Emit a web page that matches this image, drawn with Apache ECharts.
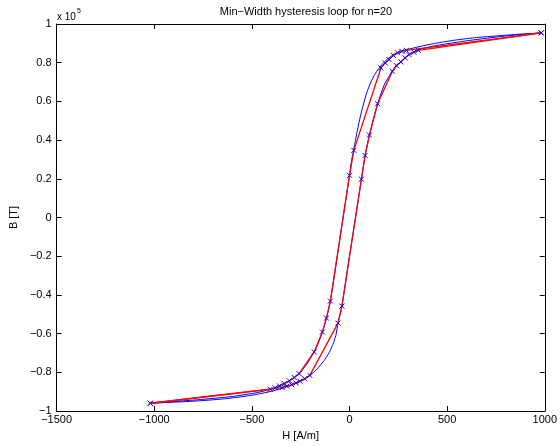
<!DOCTYPE html>
<html>
<head>
<meta charset="utf-8">
<script src="https://cdn.jsdelivr.net/npm/echarts@6/dist/echarts.min.js"></script>
<style>
  html, body { margin: 0; padding: 0; background: #fff; }
  #chart { width: 560px; height: 446px; }
</style>
</head>
<body>
<div id="chart"></div>
<script>
// B values are in units of 1e5 (axis shows "x 10^5")

// discrete loop, descending branch (red line, x markers)
const descH = [982, 291, 268, 246, 225, 203, 183, 161, 22, 0, -98, -118, -139, -181, -258, -283, -308, -334, -359, -381, -406, -1020];
const descB = [0.954, 0.864, 0.859, 0.851, 0.837, 0.816, 0.799, 0.773, 0.347, 0.218, -0.432, -0.520, -0.592, -0.695, -0.807, -0.827, -0.844, -0.858, -0.870, -0.880, -0.888, -0.960];

// discrete loop, ascending branch
const ascH = [-1020, -345, -322, -296, -274, -254, -229, -203, -59, -39, 61, 80, 102, 144, 220, 240, 263, 285, 305, 330, 352, 982];
const ascB = [-0.960, -0.879, -0.872, -0.864, -0.855, -0.846, -0.833, -0.816, -0.546, -0.458, 0.198, 0.321, 0.426, 0.588, 0.756, 0.785, 0.804, 0.825, 0.842, 0.854, 0.864, 0.954];

// continuous model curves (blue)
const contDescH = [982, 850, 762, 650, 550, 450, 380, 320, 280, 246, 215, 190, 170, 150, 130, 110, 90, 70, 55, 40, 25, 10, 0, -33, -98, -118, -139, -160, -181, -220, -258, -308, -359, -406, -474, -600, -779, -1020];
const contDescB = [0.954, 0.946, 0.939, 0.930, 0.918, 0.902, 0.888, 0.874, 0.864, 0.853, 0.835, 0.815, 0.795, 0.770, 0.740, 0.700, 0.650, 0.580, 0.520, 0.450, 0.370, 0.290, 0.218, 0.000, -0.432, -0.520, -0.592, -0.650, -0.695, -0.760, -0.807, -0.844, -0.870, -0.888, -0.905, -0.925, -0.942, -0.960];
const contAscH = [-1020, -850, -779, -650, -550, -474, -400, -345, -296, -254, -220, -190, -165, -140, -120, -100, -85, -70, -59, -39, 0, 40, 61, 80, 102, 120, 144, 180, 220, 263, 305, 352, 420, 500, 600, 762, 850, 982];
const contAscB = [-0.960, -0.952, -0.948, -0.938, -0.926, -0.914, -0.898, -0.882, -0.866, -0.848, -0.828, -0.806, -0.782, -0.752, -0.725, -0.690, -0.655, -0.610, -0.546, -0.458, -0.200, 0.060, 0.198, 0.321, 0.426, 0.500, 0.588, 0.690, 0.756, 0.806, 0.842, 0.866, 0.884, 0.898, 0.913, 0.934, 0.943, 0.954];

const xTicks = [-1500, -1000, -500, 0, 500, 1000];
const yTicks = [-1, -0.8, -0.6, -0.4, -0.2, 0, 0.2, 0.4, 0.6, 0.8, 1];

function pairs(xs, ys) {
    return xs.map(function (x, i) { return [x, ys[i]]; });
}

function fmt(v) {
    // matlab style minus sign
    return String(v).replace('-', '\u2212');
}

const font = 'Liberation Sans, Arial, sans-serif';
const crossPath = 'path://M0,0L10,10M10,0L0,10';

const axisLine = { show: true, onZero: false, lineStyle: { color: '#000', width: 1 } };
const axisTick = { show: true, inside: true, length: 5, lineStyle: { color: '#000' } };

const chart = echarts.init(document.getElementById('chart'), null, { renderer: 'canvas' });

chart.setOption({
    animation: false,
    backgroundColor: '#fff',
    title: {
        text: 'Min\u2212Width hysteresis loop for n=20',
        left: 301,
        top: 1,
        textAlign: 'center',
        textStyle: { fontFamily: font, fontSize: 11, fontWeight: 'normal', color: '#000' }
    },
    grid: { left: 55, right: 13, top: 24, bottom: 34, containLabel: false },
    xAxis: [{
        type: 'value',
        min: xTicks[0], max: xTicks[xTicks.length - 1], interval: 500,
        name: 'H [A/m]',
        nameLocation: 'middle',
        nameGap: 19,
        nameTextStyle: { fontFamily: font, fontSize: 11, color: '#000' },
        axisLine: axisLine,
        axisTick: axisTick,
        splitLine: { show: false },
        axisLabel: { fontFamily: font, fontSize: 11, color: '#000', margin: 3, formatter: fmt }
    }, {
        type: 'value',
        position: 'top',
        min: xTicks[0], max: xTicks[xTicks.length - 1], interval: 500,
        axisLine: axisLine,
        axisTick: axisTick,
        splitLine: { show: false },
        axisLabel: { show: false }
    }],
    yAxis: [{
        type: 'value',
        min: yTicks[0], max: yTicks[yTicks.length - 1], interval: 0.2,
        name: 'B [T]',
        nameLocation: 'middle',
        nameGap: 30,
        nameRotate: 90,
        nameTextStyle: { fontFamily: font, fontSize: 11, color: '#000' },
        axisLine: axisLine,
        axisTick: axisTick,
        splitLine: { show: false },
        axisLabel: {
            fontFamily: font, fontSize: 11, color: '#000', margin: 5,
            formatter: function (v) { return fmt(Math.round(v * 10) / 10); }
        }
    }, {
        type: 'value',
        position: 'right',
        min: yTicks[0], max: yTicks[yTicks.length - 1], interval: 0.2,
        axisLine: axisLine,
        axisTick: axisTick,
        splitLine: { show: false },
        axisLabel: { show: false }
    }],
    graphic: [{
        type: 'text',
        left: 57, top: 12,
        style: { text: 'x 10', font: '10px ' + font, fill: '#000' }
    }, {
        type: 'text',
        left: 77, top: 8,
        style: { text: '5', font: '7px ' + font, fill: '#000' }
    }],
    series: [{
        type: 'line',
        data: pairs(contDescH, contDescB),
        smooth: 0.2,
        showSymbol: false,
        lineStyle: { color: '#0000ff', width: 1 },
        z: 1
    }, {
        type: 'line',
        data: pairs(contAscH, contAscB),
        smooth: 0.2,
        showSymbol: false,
        lineStyle: { color: '#0000ff', width: 1 },
        z: 1
    }, {
        type: 'line',
        data: pairs(descH, descB),
        symbol: crossPath,
        symbolSize: 5,
        showAllSymbol: true,
        lineStyle: { color: '#ff0000', width: 1.3 },
        itemStyle: { color: '#0000ff', borderColor: '#0000ff', borderWidth: 1 },
        z: 2
    }, {
        type: 'line',
        data: pairs(ascH, ascB),
        symbol: crossPath,
        symbolSize: 5,
        showAllSymbol: true,
        lineStyle: { color: '#ff0000', width: 1.3 },
        itemStyle: { color: '#0000ff', borderColor: '#0000ff', borderWidth: 1 },
        z: 2
    }]
});
</script>
</body>
</html>
